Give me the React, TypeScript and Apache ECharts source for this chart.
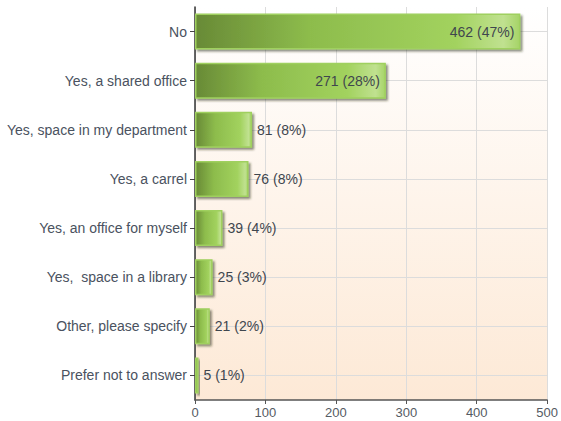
import React, { useEffect, useRef } from "react";
import * as echarts from "echarts";

const categories = [
  "No",
  "Yes, a shared office",
  "Yes, space in my department",
  "Yes, a carrel",
  "Yes, an office for myself",
  "Yes,  space in a library",
  "Other, please specify",
  "Prefer not to answer",
];
const counts = [462, 271, 81, 76, 39, 25, 21, 5];
const percents = [47, 28, 8, 8, 4, 3, 2, 1];
const xTicks = [0, 100, 200, 300, 400, 500];

export default function App() {
  const ref = useRef<HTMLDivElement>(null);
  useEffect(() => {
    document.body.style.margin = "0";
    const chart = echarts.init(ref.current!, undefined, { renderer: "svg" });
    const barGradient = new echarts.graphic.LinearGradient(0, 0, 1, 0, [
      { offset: 0, color: "#688a36" },
      { offset: 0.35, color: "#8dbc4c" },
      { offset: 0.8, color: "#a2d25e" },
      { offset: 0.95, color: "#c0e190" },
      { offset: 1, color: "#a6d468" },
    ]);
    const data = counts.map((v) => ({
      value: v,
      label: {
        position: v > 200 ? "insideRight" : "right",
        distance: v > 200 ? 6 : 5,
      },
    }));
    chart.setOption({
      animation: false,
      backgroundColor: "#ffffff",
      grid: {
        left: 195,
        right: 9,
        top: 7,
        bottom: 21,
        show: true,
        borderWidth: 0,
        backgroundColor: new echarts.graphic.LinearGradient(0, 0, 0, 1, [
          { offset: 0, color: "#ffffff" },
          { offset: 1, color: "#fde9d6" },
        ]),
      },
      xAxis: {
        type: "value",
        min: xTicks[0],
        max: xTicks[xTicks.length - 1],
        interval: 100,
        axisLine: { show: true, lineStyle: { color: "#555", width: 1.5 } },
        axisTick: { show: true, length: 4, lineStyle: { color: "#555" } },
        axisLabel: {
          color: "#555b63",
          fontSize: 13,
          fontFamily: "Liberation Sans, Arial, sans-serif",
          margin: 6,
        },
        splitLine: { show: true, lineStyle: { color: "#dcdcdc", width: 1 } },
      },
      yAxis: {
        type: "category",
        data: categories,
        inverse: true,
        axisLine: { show: true, lineStyle: { color: "#333", width: 1.5 } },
        axisTick: {
          show: true,
          alignWithLabel: true,
          length: 5,
          lineStyle: { color: "#444" },
        },
        axisLabel: {
          color: "#4a5260",
          fontSize: 14,
          fontFamily: "Liberation Sans, Arial, sans-serif",
          margin: 8,
        },
        splitLine: { show: false },
      },
      series: [
        {
          type: "bar",
          data,
          barWidth: 36,
          itemStyle: {
            color: barGradient,
            borderColor: "#9fd05e",
            borderWidth: 1.5,
            shadowColor: "rgba(40,50,20,0.55)",
            shadowBlur: 2,
            shadowOffsetX: 2,
            shadowOffsetY: 2,
          },
          label: {
            show: true,
            color: "#3f464e",
            fontSize: 14,
            fontFamily: "Liberation Sans, Arial, sans-serif",
            formatter: (p: any) => `${p.value} (${percents[p.dataIndex]}%)`,
          },
          markLine: {
            silent: true,
            z: 1,
            symbol: "none",
            label: { show: false },
            lineStyle: { color: "#dcdcdc", width: 1, type: "solid" },
            data: categories.map((c) => ({ yAxis: c })),
          },
        },
      ],
    });
    return () => chart.dispose();
  }, []);
  return <div ref={ref} style={{ width: 561, height: 421 }} />;
}
